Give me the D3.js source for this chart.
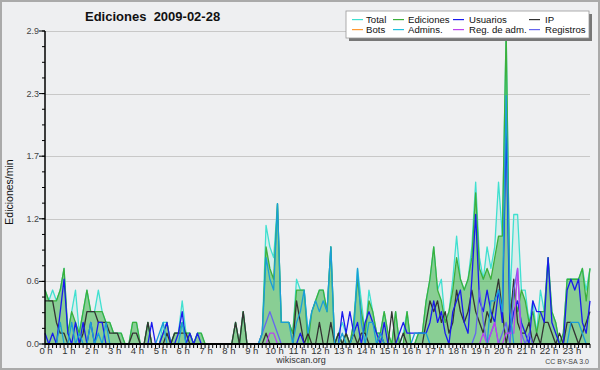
<!DOCTYPE html>
<html>
<head>
<meta charset="utf-8">
<script src="https://cdn.jsdelivr.net/npm/d3@7"></script>
<style>
body { margin: 0; background: #fff; }
svg { display: block; font-family: "Liberation Sans", Arial, sans-serif; }
</style>
</head>
<body>
<svg id="chart" width="600" height="370"></svg>
<script>
// values per 10 minutes, in tenths of edits/min (144 points = 24 h)
var total = [
  5,4,5,4,5,7, 1,3,5,1,3,5, 3,3,5,3,2,2, 1,1,1,0,0,2, 2,0,0,2,0,0, 0,2,2,0,1,1,
  4,1,1,0,1,1, 0,0,0,0,0,0, 0,0,2,0,3,0, 0,0,0,1,11,9, 8,13,2,2,2,1, 6,5,5,1,3,4,
  5,5,3,9,0,1, 2,1,0,2,7,4, 1,5,3,1,1,3, 1,0,3,0,1,3, 0,0,1,1,4,6, 9,5,6,2,3,6,
  10,6,5,6,9,15, 8,6,9,7,9,15, 10,29,4,12,12,5, 5,2,4,1,5,3, 8,3,2,0,1,6, 6,6,6,7,5,7];
var ediciones = [
  5,4,4,4,5,7, 1,3,2,1,3,5, 3,3,3,3,2,2, 1,1,1,0,0,2, 2,0,0,2,0,0, 0,1,2,0,1,1,
  2,1,1,0,1,1, 0,0,0,0,0,0, 0,0,2,0,3,0, 0,0,0,1,9,7, 6,13,2,2,2,1, 5,5,5,0,3,4,
  5,5,3,9,0,1, 0,1,0,2,6,3, 1,4,3,1,1,3, 1,0,3,0,0,3, 0,0,1,1,4,6, 9,5,4,2,3,5,
  8,6,5,6,8,14, 7,6,7,6,8,10, 10,29,3,5,3,5, 4,2,3,1,3,3, 8,3,2,0,1,6, 6,6,6,7,4,7];
var usuarios = [
  1,0,1,0,3,6, 1,0,2,0,2,0, 2,0,2,2,0,0, 0,0,0,0,0,0, 0,0,0,0,2,0, 0,1,2,0,0,1,
  3,0,1,0,1,0, 0,0,0,0,0,0, 0,0,0,0,0,0, 0,0,0,0,0,0, 0,0,0,0,0,0, 0,1,0,0,0,0,
  0,0,0,0,0,0, 3,1,3,1,2,0, 2,3,2,1,0,2, 0,0,0,1,2,1, 1,1,1,1,1,2, 4,2,3,1,0,3,
  4,5,2,1,6,12, 4,3,5,3,2,5, 2,20,1,3,4,2, 1,0,4,3,3,2, 8,2,1,0,0,5, 6,5,6,2,1,4];
var ip = [
  4,4,4,2,1,1, 0,0,0,0,1,3, 3,3,2,2,2,1, 1,1,0,0,0,1, 1,0,0,2,0,0, 0,0,1,0,1,1,
  1,1,0,0,0,0, 0,0,0,0,0,0, 0,0,2,0,3,0, 0,0,0,0,1,0, 0,0,0,0,0,0, 4,2,0,1,0,0,
  2,0,0,2,0,1, 0,1,0,1,0,1, 1,0,0,0,1,0, 0,3,0,0,1,0, 0,0,0,0,2,4, 3,4,2,3,1,2,
  5,3,2,3,5,3, 2,1,3,2,4,6, 3,0,2,6,2,1, 1,2,0,1,0,2, 2,1,0,1,0,2, 2,1,0,1,2,3];
var admins = [
  0,0,0,0,2,0, 0,2,0,1,0,0, 2,0,1,0,2,0, 0,0,0,0,0,0, 0,0,0,0,0,0, 1,2,0,0,0,0,
  2,0,0,0,0,0, 0,0,0,0,0,0, 0,0,0,0,0,0, 0,0,0,1,8,6, 5,13,2,2,2,0, 2,3,5,1,3,4,
  3,4,3,9,0,0, 1,0,0,1,7,2, 0,2,2,0,1,0, 0,0,0,0,0,0, 0,1,1,1,1,0, 0,0,0,0,0,0,
  0,0,0,0,0,0, 0,0,0,4,4,5, 3,23,3,0,0,0, 0,0,0,0,0,0, 0,0,0,0,0,0, 2,2,2,1,0,0];
var regAdm = [
  0,0,0,0,0,0, 0,0,0,0,0,0, 0,0,0,0,0,0, 0,0,0,0,0,0, 0,0,0,0,0,0, 0,0,0,0,0,0,
  0,0,0,0,0,0, 0,0,0,0,0,0, 0,0,0,0,0,0, 0,0,0,0,0,1, 1,0,0,0,0,0, 0,0,0,0,0,0,
  0,0,0,0,0,0, 0,0,0,0,0,0, 0,0,0,0,0,0, 0,0,0,0,0,0, 0,0,0,0,0,0, 0,0,0,0,0,0,
  0,0,0,0,0,0, 0,1,0,1,2,0, 0,1,1,1,7,0, 0,0,0,0,0,0, 0,0,0,0,0,0, 0,0,0,0,0,0];
var registros = [
  0,0,0,0,0,0, 0,0,0,0,0,0, 0,0,0,0,0,0, 0,0,0,0,0,0, 0,0,0,0,0,0, 0,0,0,0,0,0,
  0,0,0,0,0,0, 0,0,0,0,0,0, 0,0,0,0,0,0, 0,0,0,1,2,3, 2,1,0,0,0,0, 0,0,0,0,0,0,
  0,0,0,0,0,0, 0,0,0,0,0,0, 0,0,0,0,0,0, 0,0,0,0,0,0, 0,0,0,0,0,0, 0,0,0,0,0,0,
  0,0,0,0,0,1, 5,2,0,1,2,0, 1,2,0,5,7,1, 0,1,0,0,0,0, 0,0,0,0,0,0, 0,0,0,0,0,0];

var hourLabels = ["0 h","1 h","2 h","3 h","4 h","5 h","6 h","7 h","8 h","9 h","10 h","11 h",
  "12 h","13 h","14 h","15 h","16 h","17 h","18 h","19 h","20 h","21 h","22 h","23 h"];
var yTicks = [0, 0.58, 1.16, 1.74, 2.32, 2.9];

var legendItems = [
  {name: "Total", color: "#40e0d0"}, {name: "Ediciones", color: "#3cb03c"},
  {name: "Usuarios", color: "#1a1aee"}, {name: "IP", color: "#333333"},
  {name: "Bots", color: "#ff9933"}, {name: "Admins.", color: "#22c0dd"},
  {name: "Reg. de adm.", color: "#bb44ee"}, {name: "Registros", color: "#6666ee"}
];

function drawChart() {
  var svg = d3.select("#chart");

  // background and frame
  svg.append("rect").attr("x", 1).attr("y", 1).attr("width", 598).attr("height", 368)
    .attr("fill", "#eeeff1").attr("stroke", "#aaaaaa").attr("stroke-width", 2);

  var plotLeft = 45, plotRight = 590, plotTop = 31, plotBottom = 344;
  var x = d3.scaleLinear().domain([0, 143]).range([plotLeft, plotRight]);
  var y = d3.scaleLinear().domain([0, 2.9]).range([plotBottom, plotTop]);

  // grid
  svg.append("g").selectAll("line").data(yTicks.slice(1)).enter().append("line")
    .attr("x1", plotLeft).attr("x2", plotRight)
    .attr("y1", function(d) { return Math.round(y(d)) + 0.5; })
    .attr("y2", function(d) { return Math.round(y(d)) + 0.5; })
    .attr("stroke", "#c8c8c8").attr("stroke-width", 1);

  function toSeries(arr) { return arr.map(function(v, i) { return {i: i, v: v / 10}; }); }

  var area = d3.area().x(function(d) { return x(d.i); }).y0(y(0)).y1(function(d) { return y(d.v); });
  var line = d3.line().x(function(d) { return x(d.i); }).y(function(d) { return y(d.v); });

  var plot = svg.append("g");
  plot.append("path").datum(toSeries(total)).attr("d", area)
    .attr("fill", "#40e0d0").attr("fill-opacity", 0.13);
  plot.append("path").datum(toSeries(ediciones)).attr("d", area)
    .attr("fill", "#3cb03c").attr("fill-opacity", 0.5);

  var lines = [
    {data: total, color: "#40e0d0"},
    {data: ediciones, color: "#3cb03c"},
    {data: ip, color: "#333333"},
    {data: usuarios, color: "#1a1aee"},
    {data: registros, color: "#6666ee"},
    {data: regAdm, color: "#bb44ee"},
    {data: admins, color: "#1a9ed8"}
  ];
  lines.forEach(function(s) {
    plot.append("path").datum(toSeries(s.data)).attr("d", line)
      .attr("fill", "none").attr("stroke", s.color).attr("stroke-width", 1.3)
      .attr("stroke-linejoin", "round");
  });

  // y axis
  var yAxis = svg.append("g");
  yAxis.append("line").attr("x1", plotLeft).attr("x2", plotLeft).attr("y1", plotTop).attr("y2", plotBottom)
    .attr("stroke", "#000").attr("stroke-width", 1.5);
  var minor = d3.range(0, 21).map(function(k) { return k * 0.145; });
  yAxis.selectAll(".minor").data(minor).enter().append("line")
    .attr("x1", plotLeft - 3).attr("x2", plotLeft)
    .attr("y1", function(d) { return y(d); }).attr("y2", function(d) { return y(d); })
    .attr("stroke", "#000");
  yAxis.selectAll(".major").data(yTicks).enter().append("line")
    .attr("x1", plotLeft - 6).attr("x2", plotLeft)
    .attr("y1", function(d) { return y(d); }).attr("y2", function(d) { return y(d); })
    .attr("stroke", "#000");
  yAxis.selectAll("text").data(yTicks).enter().append("text")
    .attr("x", plotLeft - 6).attr("y", function(d) { return y(d) + 3; })
    .attr("text-anchor", "end").style("font-size", "9px").style("fill", "#444")
    .text(function(d) { return d3.format(".1f")(d); });

  // x axis
  var xAxis = svg.append("g");
  xAxis.selectAll(".tick").data(d3.range(0, 144)).enter().append("line")
    .attr("x1", function(d) { return x(d); }).attr("x2", function(d) { return x(d); })
    .attr("y1", plotBottom).attr("y2", plotBottom + 4).attr("stroke", "#000");
  xAxis.append("line").attr("x1", plotLeft).attr("x2", plotRight).attr("y1", plotBottom).attr("y2", plotBottom)
    .attr("stroke", "#000").attr("stroke-width", 2);
  xAxis.selectAll("text").data(hourLabels).enter().append("text")
    .attr("x", function(d, i) { return x(i * 6) + 1; }).attr("y", plotBottom + 10)
    .attr("text-anchor", "middle").style("font-size", "9.5px").style("fill", "#333")
    .text(function(d) { return d; });

  // titles
  svg.append("text").attr("x", 85).attr("y", 21).attr("xml:space", "preserve")
    .style("font-size", "13px").style("font-weight", "bold").style("fill", "#111")
    .text("Ediciones  2009-02-28");
  svg.append("text").attr("transform", "translate(13,192) rotate(-90)")
    .attr("text-anchor", "middle").style("font-size", "10.5px").style("fill", "#111")
    .text("Ediciones/min");
  svg.append("text").attr("x", 301).attr("y", 363).attr("text-anchor", "middle")
    .style("font-size", "9px").style("fill", "#333").text("wikiscan.org");
  svg.append("text").attr("x", 589).attr("y", 364).attr("text-anchor", "end")
    .style("font-size", "7px").style("fill", "#444").text("CC BY-SA 3.0");

  // legend
  var lg = svg.append("g");
  lg.append("rect").attr("x", 349).attr("y", 14).attr("width", 243).attr("height", 27).attr("fill", "#777");
  lg.append("rect").attr("x", 346).attr("y", 11).attr("width", 243).attr("height", 27)
    .attr("fill", "#fff").attr("stroke", "#999").attr("stroke-width", 0.8);
  var colX = [352, 393, 453, 529];
  var textX = [366, 408, 469, 545];
  legendItems.forEach(function(d, i) {
    var c = i % 4, r = Math.floor(i / 4);
    var yy = 19 + r * 10;
    lg.append("rect").attr("x", colX[c]).attr("y", yy).attr("width", 11).attr("height", 1.2)
      .attr("fill", d.color);
    lg.append("text").attr("x", textX[c]).attr("y", yy + 4)
      .style("font-size", "9.6px").style("fill", "#111").text(d.name);
  });
}

drawChart();
</script>
</body>
</html>
